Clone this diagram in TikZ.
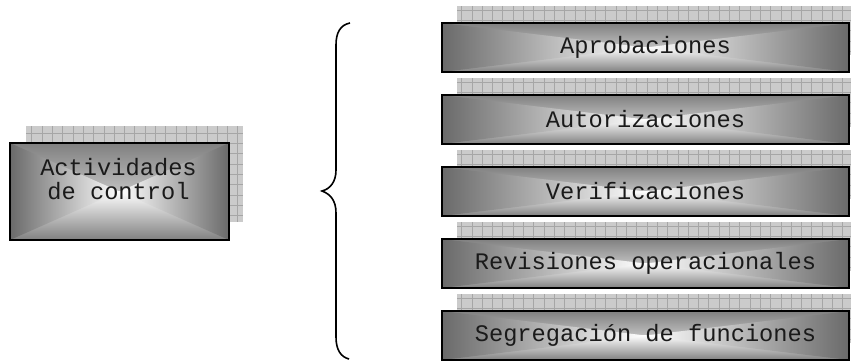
\documentclass[tikz,border=0pt]{standalone}
\usepackage{fontspec}
\setmonofont{Liberation Mono}
\begin{document}
\begin{tikzpicture}[x=1pt,y=-1pt,
  shadowbox/.style={draw=none, fill=shadowgray, inner sep=0pt, anchor=north west,
    path picture={
      \draw[gridline] ([shift={(-0.5pt,0.5pt)}]path picture bounding box.south west)
        grid[step=10.3pt] (path picture bounding box.north east);
    }},
  gradbox/.style={draw=black, line width=2pt, inner sep=0pt, anchor=north west,
    font=\ttfamily\fontsize{23.7}{24}\selectfont, text=textgray,
    path picture={
      % rectangular gradient: grey rim, white centre
      \path[top color=rimTB, bottom color=white]
        (path picture bounding box.north west) rectangle
        ([yshift=-0.5pt]path picture bounding box.east);
      \path[bottom color=rimTB, top color=white]
        (path picture bounding box.south east) rectangle
        ([yshift=0.5pt]path picture bounding box.west);
      \path[left color=rimLR, right color=white]
        (path picture bounding box.north west) -- (path picture bounding box.south west)
        -- (path picture bounding box.center) -- cycle;
      \path[right color=rimLR, left color=white]
        (path picture bounding box.north east) -- (path picture bounding box.south east)
        -- (path picture bounding box.center) -- cycle;
    }},
  gridline/.style={draw=gridgray, line width=0.6pt},
  bracestyle/.style={draw=black, line width=1.6pt}
]
\definecolor{shadowgray}{HTML}{CBCBCB}
\definecolor{gridgray}{HTML}{A6A6A6}
\definecolor{rimTB}{HTML}{808080}
\definecolor{rimLR}{HTML}{6A6A6A}
\definecolor{textgray}{HTML}{1A1A1A}

\clip (0,0) rectangle (851,360);
\fill[white] (0,0) rectangle (851,360);

% left block
\node[shadowbox, minimum width=217pt, minimum height=96pt] (act-sh) at (26,126) {};
\node[gradbox, minimum width=219pt, minimum height=97pt] (act) at (9,142) {};
\node[font=\ttfamily\fontsize{23.7}{24}\selectfont, text=textgray, align=center,
      inner sep=0pt] (act-text) at (118.5,179) {Actividades\\de control};

% right column
\foreach \name/\top/\txt in {apro/22/Aprobaciones,
                            auto/94/Autorizaciones,
                            veri/166/Verificaciones,
                            revi/238/Revisiones operacionales,
                            segr/310/Segregación de funciones}{
  \node[shadowbox, minimum width=400pt, minimum height=49pt] (\name-sh) at (457,\top-16) {};
  \node[gradbox, minimum width=407pt, minimum height=49pt] (\name) at (441,\top) {\txt};
}

% curly brace
\coordinate (br-top) at (350,23);
\coordinate (br-tip) at (322,191);
\coordinate (br-bot) at (349,359);
\draw[bracestyle] (br-top) .. controls (340,25) and (336,33) .. (336,45)
  -- (336,170) .. controls (336,182) and (330,189) .. (br-tip)
  .. controls (330,194) and (336,200) .. (336,213)
  -- (336,337) .. controls (336,350) and (341,357) .. (br-bot);
\end{tikzpicture}
\end{document}
